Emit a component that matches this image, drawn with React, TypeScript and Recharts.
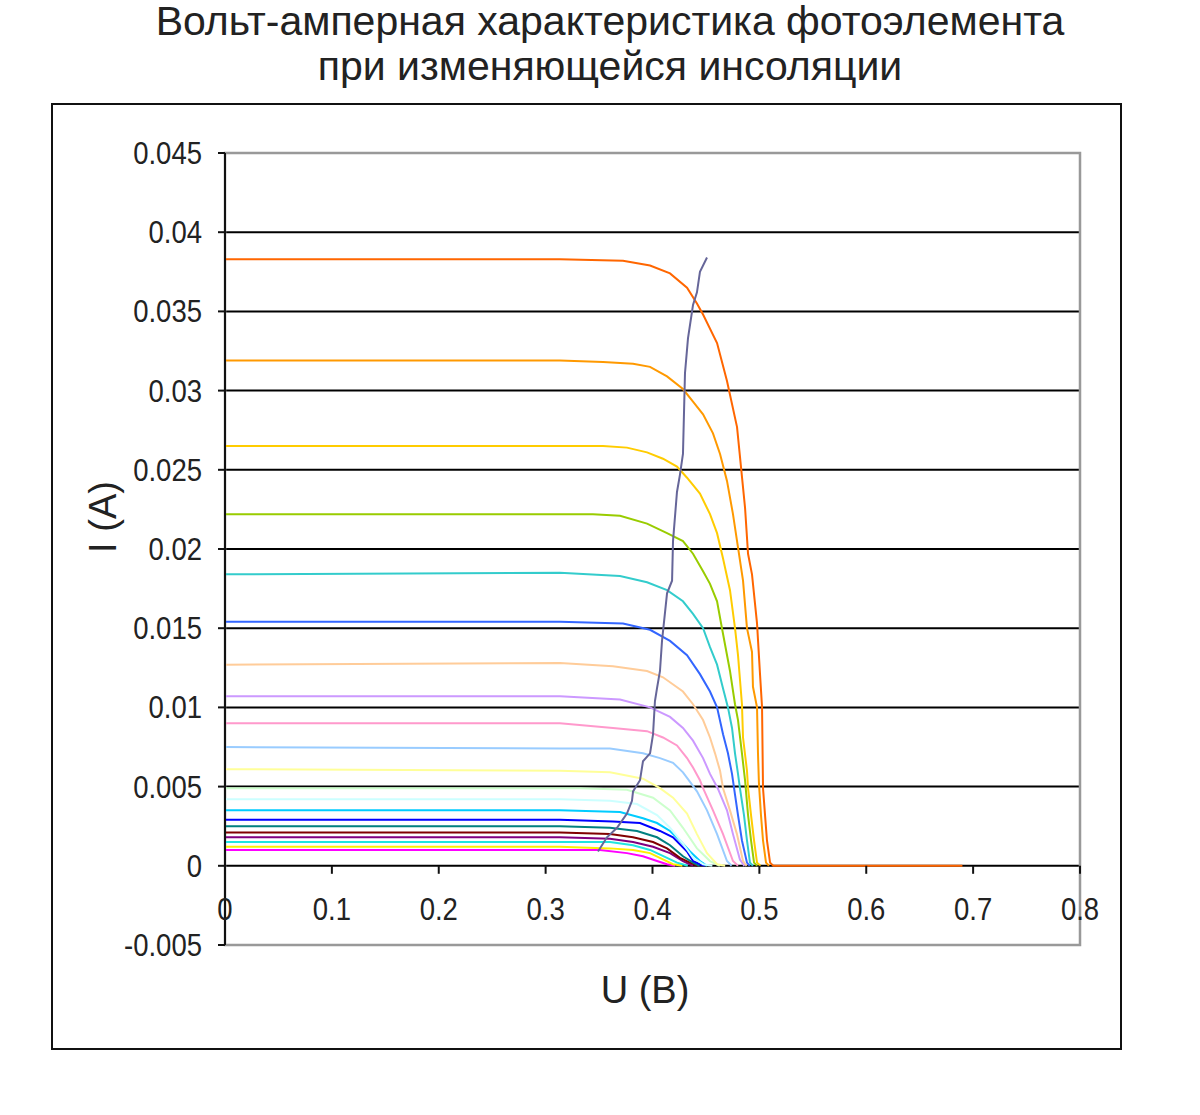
import * as React from 'react'
import { CartesianGrid, Line, LineChart, ReferenceArea, XAxis, YAxis } from 'recharts'

// DATA: [U (V), I (A)]

const magenta = [[0, 0.0010], [0.3134, 0.0010], [0.3509, 0.0010], [0.3761, 0.0008], [0.3911, 0.0006], [0.4042, 0.0003], [0.4136, 0.0001], [0.421, 0]]
const yellow = [[0, 0.0012], [0.3134, 0.0012], [0.3602, 0.0011], [0.3818, 0.0010], [0.3977, 0.0008], [0.4098, 0.0004], [0.4192, 0.0001], [0.428, 0]]
const cyan = [[0, 0.0015], [0.3134, 0.0015], [0.3602, 0.0015], [0.3818, 0.0013], [0.3977, 0.0010], [0.4136, 0.0005], [0.4229, 0.0002], [0.433, 0]]
const purple = [[0, 0.0018], [0.3134, 0.0018], [0.3602, 0.0017], [0.3818, 0.0015], [0.4005, 0.0012], [0.4164, 0.0008], [0.4285, 0.0003], [0.438, 0]]
const darkRed = [[0, 0.0021], [0.3134, 0.0021], [0.3602, 0.0020], [0.3818, 0.0018], [0.4005, 0.0015], [0.4136, 0.0011], [0.4257, 0.0005], [0.4351, 0.0002], [0.442, 0]]
const teal = [[0, 0.0025], [0.3134, 0.0025], [0.3602, 0.0024], [0.3855, 0.0022], [0.4042, 0.0018], [0.4164, 0.0013], [0.4285, 0.0006], [0.4379, 0.0002], [0.444, 0]]
const blue = [[0, 0.0029], [0.3134, 0.0029], [0.363, 0.0028], [0.3883, 0.0027], [0.407, 0.0022], [0.4192, 0.0018], [0.4323, 0.0009], [0.4379, 0.0003], [0.4444, 0.0001], [0.449, 0]]
const skyBlue = [[0, 0.0035], [0.3134, 0.0035], [0.3696, 0.0034], [0.3911, 0.0030], [0.4042, 0.0027], [0.4164, 0.0022], [0.4257, 0.0016], [0.4351, 0.0009], [0.4444, 0.0003], [0.451, 0]]
const lightTurquoise = [[0, 0.0042], [0.3134, 0.0042], [0.3602, 0.0041], [0.3855, 0.0039], [0.4042, 0.0032], [0.4164, 0.0024], [0.4285, 0.0014], [0.4379, 0.0005], [0.4473, 0.0001], [0.456, 0]]
const lightGreen = [[0, 0.0049], [0.3322, 0.0049], [0.3761, 0.0048], [0.4005, 0.0043], [0.4164, 0.0035], [0.4285, 0.0024], [0.4416, 0.0011], [0.4538, 0.0003], [0.463, 0]]
const lightYellow = [[0, 0.0061], [0.3134, 0.0060], [0.3602, 0.0059], [0.3911, 0.0055], [0.407, 0.0049], [0.4192, 0.0043], [0.4323, 0.0033], [0.4416, 0.0020], [0.451, 0.0008], [0.4604, 0.0001], [0.468, 0]]
const paleBlue = [[0, 0.0075], [0.3134, 0.0074], [0.3602, 0.0074], [0.3911, 0.0071], [0.407, 0.0068], [0.4192, 0.0065], [0.4285, 0.0059], [0.4351, 0.0053], [0.4416, 0.0047], [0.451, 0.0035], [0.4604, 0.0020], [0.4697, 0.0003], [0.474, 0]]
const rose = [[0, 0.0090], [0.3134, 0.0090], [0.363, 0.0087], [0.3949, 0.0085], [0.4098, 0.0081], [0.4229, 0.0076], [0.4323, 0.0068], [0.4379, 0.0062], [0.4444, 0.0054], [0.4473, 0.0049], [0.4566, 0.0035], [0.466, 0.0020], [0.4753, 0.0003], [0.48, 0]]
const lavender = [[0, 0.0107], [0.3134, 0.0107], [0.3696, 0.0105], [0.3977, 0.0100], [0.4164, 0.0094], [0.4285, 0.0087], [0.4379, 0.0079], [0.4473, 0.0068], [0.4538, 0.0058], [0.461, 0.0049], [0.4697, 0.0035], [0.4753, 0.0020], [0.4818, 0.0004], [0.486, 0]]
const tan = [[0, 0.0127], [0.3134, 0.0128], [0.363, 0.0126], [0.3949, 0.0123], [0.4098, 0.0119], [0.4285, 0.0110], [0.4379, 0.0102], [0.4473, 0.0092], [0.4538, 0.0081], [0.4585, 0.0071], [0.4632, 0.0060], [0.466, 0.0049], [0.4725, 0.0035], [0.479, 0.0020], [0.4847, 0.0003], [0.488, 0]]
const royalBlue = [[0, 0.0154], [0.3134, 0.0154], [0.3724, 0.0153], [0.3977, 0.0149], [0.4164, 0.0142], [0.4323, 0.0133], [0.4444, 0.0121], [0.4538, 0.0110], [0.4604, 0.0100], [0.466, 0.0083], [0.4706, 0.0071], [0.4744, 0.0058], [0.4772, 0.0045], [0.48, 0.0032], [0.4837, 0.0016], [0.4884, 0.0002], [0.491, 0]]
const aqua = [[0, 0.0184], [0.3134, 0.0185], [0.3696, 0.0183], [0.3949, 0.0179], [0.4136, 0.0174], [0.4285, 0.0167], [0.4379, 0.0159], [0.4473, 0.0150], [0.4538, 0.0138], [0.4604, 0.0127], [0.466, 0.0112], [0.4706, 0.0100], [0.4744, 0.0087], [0.4772, 0.0071], [0.48, 0.0058], [0.4818, 0.0049], [0.4856, 0.0032], [0.4884, 0.0016], [0.4912, 0.0002], [0.494, 0]]
const lime = [[0, 0.0222], [0.3134, 0.0222], [0.3443, 0.0222], [0.3696, 0.0221], [0.3949, 0.0216], [0.4136, 0.0210], [0.4285, 0.0205], [0.4379, 0.0197], [0.4473, 0.0186], [0.4538, 0.0178], [0.4604, 0.0167], [0.465, 0.0150], [0.4725, 0.0123], [0.4772, 0.0102], [0.48, 0.0092], [0.4837, 0.0071], [0.4866, 0.0054], [0.4894, 0.0032], [0.4922, 0.0016], [0.495, 0.0002], [0.498, 0]]
const gold = [[0, 0.0265], [0.3134, 0.0265], [0.3537, 0.0265], [0.3761, 0.0264], [0.3949, 0.0261], [0.4098, 0.0257], [0.4229, 0.0252], [0.4323, 0.0245], [0.4444, 0.0235], [0.4538, 0.0222], [0.4604, 0.0210], [0.466, 0.0194], [0.4725, 0.0174], [0.4772, 0.0150], [0.48, 0.0133], [0.4837, 0.0102], [0.4847, 0.0081], [0.4884, 0.0060], [0.4894, 0.0049], [0.4922, 0.0032], [0.495, 0.0016], [0.4978, 0.0002], [0.501, 0]]
const lightOrange = [[0, 0.0319], [0.3134, 0.0319], [0.3537, 0.0318], [0.3818, 0.0317], [0.3977, 0.0315], [0.4136, 0.0309], [0.4285, 0.0301], [0.4379, 0.0293], [0.4473, 0.0285], [0.4566, 0.0273], [0.4632, 0.0260], [0.4697, 0.0243], [0.4753, 0.0222], [0.48, 0.0201], [0.4847, 0.0180], [0.4884, 0.0150], [0.4931, 0.0135], [0.494, 0.0113], [0.4978, 0.0100], [0.4987, 0.0071], [0.4996, 0.0052], [0.5015, 0.0032], [0.5034, 0.0016], [0.5062, 0.0002], [0.509, 0]]
const orange = [[0, 0.0383], [0.3134, 0.0383], [0.3724, 0.0382], [0.3977, 0.0379], [0.4164, 0.0374], [0.4323, 0.0365], [0.4416, 0.0355], [0.4473, 0.0348], [0.4604, 0.0330], [0.4697, 0.0306], [0.4791, 0.0277], [0.4866, 0.0226], [0.4894, 0.0197], [0.4931, 0.0184], [0.4978, 0.0153], [0.5006, 0.0121], [0.5025, 0.0100], [0.5034, 0.0049], [0.5053, 0.0032], [0.5071, 0.0016], [0.51, 0.0002], [0.513, 0], [0.69, 0]]

// maximum power point track
const mpp = [[0.349, 0.0009], [0.3574, 0.0018], [0.3668, 0.0024], [0.3761, 0.0033], [0.3808, 0.0041], [0.3818, 0.0047], [0.3883, 0.0054], [0.3911, 0.0066], [0.3977, 0.0071], [0.4005, 0.0083], [0.4023, 0.0104], [0.4042, 0.0112], [0.407, 0.0123], [0.4089, 0.0142], [0.4136, 0.0172], [0.4183, 0.0180], [0.4192, 0.0205], [0.4229, 0.0236], [0.4257, 0.0247], [0.4285, 0.0260], [0.4304, 0.0311], [0.4332, 0.0333], [0.4379, 0.0354], [0.4416, 0.0362], [0.4444, 0.0375], [0.451, 0.0384]]

const curves: { name: string, color: string, points: number[][] }[] = [
    { name: 'magenta', color: '#FF00FF', points: magenta },
    { name: 'yellow', color: '#FFEE00', points: yellow },
    { name: 'cyan', color: '#22E5E0', points: cyan },
    { name: 'purple', color: '#800080', points: purple },
    { name: 'darkRed', color: '#800000', points: darkRed },
    { name: 'teal', color: '#008080', points: teal },
    { name: 'blue', color: '#0000FF', points: blue },
    { name: 'skyBlue', color: '#00CCFF', points: skyBlue },
    { name: 'lightTurquoise', color: '#CCFFFF', points: lightTurquoise },
    { name: 'lightGreen', color: '#CCFFCC', points: lightGreen },
    { name: 'lightYellow', color: '#FFFF99', points: lightYellow },
    { name: 'paleBlue', color: '#99CCFF', points: paleBlue },
    { name: 'rose', color: '#FF99CC', points: rose },
    { name: 'lavender', color: '#CC99FF', points: lavender },
    { name: 'tan', color: '#FFCC99', points: tan },
    { name: 'royalBlue', color: '#3366FF', points: royalBlue },
    { name: 'aqua', color: '#33CCCC', points: aqua },
    { name: 'lime', color: '#99CC00', points: lime },
    { name: 'gold', color: '#FFCC00', points: gold },
    { name: 'lightOrange', color: '#FF9900', points: lightOrange },
    { name: 'orange', color: '#FF6600', points: orange },
]

const xTicks = [0, 0.1, 0.2, 0.3, 0.4, 0.5, 0.6, 0.7, 0.8]
const yTicks = [-0.005, 0, 0.005, 0.01, 0.015, 0.02, 0.025, 0.03, 0.035, 0.04, 0.045]

const titleLines = ['Вольт-амперная характеристика фотоэлемента', 'при изменяющейся инсоляции']

// LAYOUT

const W = 1200
const H = 1115
const PLOT_LEFT = 225
const PLOT_RIGHT = 1080
const PLOT_TOP = 153
const PLOT_BOTTOM = 945
const Y_MIN = -0.005
const Y_MAX = 0.045
const ZERO_Y = PLOT_TOP + (PLOT_BOTTOM - PLOT_TOP) * Y_MAX / (Y_MAX - Y_MIN)

const TICK_FONT = "'Liberation Sans', Arial, sans-serif"
const TICK_SIZE = 32
const TICK_SQUEEZE = 0.86
const LABEL_FONT = "'Liberation Sans', Arial, sans-serif"

const toRows = (points: number[][]) => points.map(p => ({ u: p[0], i: p[1] }))

// narrow tick text, like the original's condensed look
const TickText = (props: { x: number, y: number, anchor: string, text: string }) => (
    <text transform={`translate(${props.x},${props.y}) scale(${TICK_SQUEEZE},1)`} textAnchor={props.anchor} fontSize={TICK_SIZE} fill='#222' fontFamily={TICK_FONT}>{props.text}</text>
)

// x ticks sit on the I = 0 line, not at the bottom of the plot
const XTick = (props: any) => {
    const { x, payload } = props
    return (
        <g>
            <line x1={x} x2={x} y1={ZERO_Y} y2={ZERO_Y + 8} stroke='#111' strokeWidth={2}/>
            <TickText x={x} y={ZERO_Y + 54} anchor='middle' text={String(payload.value)}/>
        </g>
    )
}

const YTick = (props: any) => {
    const { x, y, payload } = props
    return <TickText x={x} y={y + 11} anchor='end' text={String(payload.value)}/>
}

export default function App() {
    return (
        <div style={{ position: 'absolute', left: 0, top: 0, width: W, height: H, background: '#fff' }}>
            {titleLines.map((t, k) => (
                <div key={k} style={{ position: 'absolute', left: 0, width: 1220, top: 4 + k * 45, textAlign: 'center', fontFamily: LABEL_FONT, fontSize: 41, color: '#222', lineHeight: '34px', whiteSpace: 'nowrap' }}>{t}</div>
            ))}
            <div style={{ position: 'absolute', left: 51, top: 103, width: 1071, height: 947, border: '2px solid #111', boxSizing: 'border-box' }}/>
            <div style={{ position: 'absolute', left: 0, top: 0 }}>
                <LineChart width={W} height={H} margin={{ top: PLOT_TOP, right: W - PLOT_RIGHT, bottom: H - PLOT_BOTTOM - 60, left: PLOT_LEFT - 110 }}>
                    <CartesianGrid vertical={false} stroke='#000' strokeWidth={2}/>
                    <ReferenceArea x1={0} x2={0.8} y1={Y_MIN} y2={Y_MAX} fill='none' fillOpacity={0} stroke='#999' strokeWidth={2.5}/>
                    <XAxis type='number' dataKey='u' domain={[0, 0.8]} ticks={xTicks} interval={0} height={60} axisLine={false} tickLine={false} tick={<XTick/>}/>
                    <YAxis type='number' dataKey='i' domain={[Y_MIN, Y_MAX]} ticks={yTicks} interval={0} width={110} allowDataOverflow
                        axisLine={{ stroke: '#111', strokeWidth: 2 }} tickLine={{ stroke: '#111', strokeWidth: 2 }} tickSize={7} tickMargin={16}
                        tick={<YTick/>}/>
                    {curves.map(c => (
                        <Line key={c.name} name={c.name} data={toRows(c.points)} dataKey='i' type='linear' stroke={c.color} strokeWidth={2} dot={false} isAnimationActive={false}/>
                    ))}
                    <Line name='mpp' data={toRows(mpp)} dataKey='i' type='linear' stroke='#666699' strokeWidth={2} dot={false} isAnimationActive={false}/>
                </LineChart>
            </div>
            <div style={{ position: 'absolute', left: 103, top: 517, transform: 'translate(-50%, -50%) rotate(-90deg)', fontFamily: LABEL_FONT, fontSize: 38, color: '#222', whiteSpace: 'nowrap' }}>I (A)</div>
            <div style={{ position: 'absolute', left: 645, top: 990, transform: 'translate(-50%, -50%)', fontFamily: LABEL_FONT, fontSize: 38, color: '#222', whiteSpace: 'nowrap' }}>U (B)</div>
        </div>
    )
}
